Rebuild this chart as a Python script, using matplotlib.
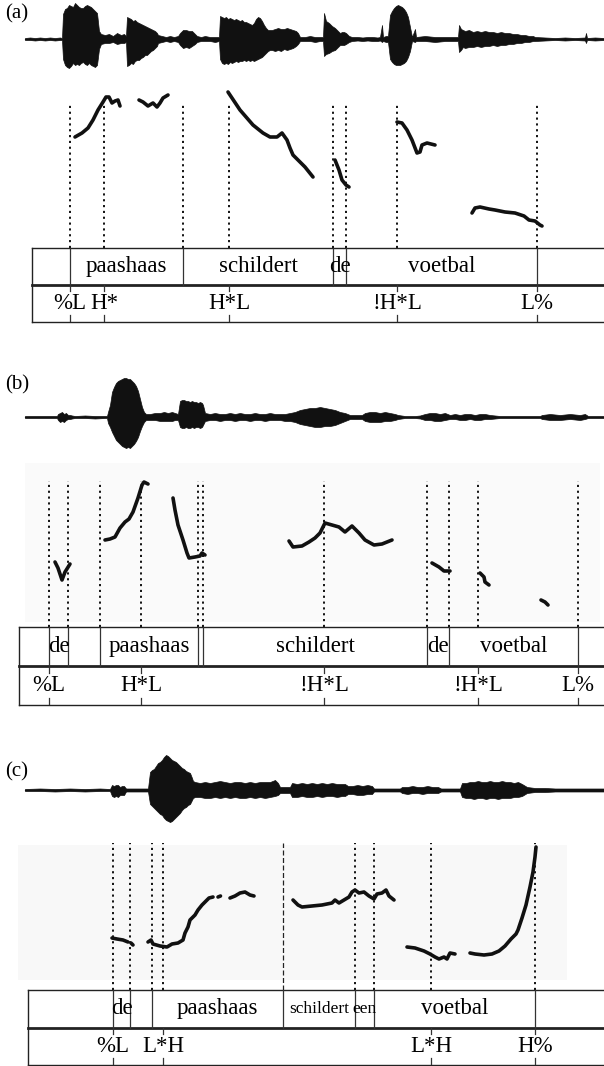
import matplotlib.pyplot as plt
from matplotlib.patches import Rectangle

plt.rcParams['font.family'] = ['Liberation Serif', 'DejaVu Serif']

# tiempo en ms, amplitud en unidades arbitrarias, f0 en Hz

# ---------------- (a) ----------------
a_wave_t = [0, 20, 40, 60, 80, 100, 120, 140, 148,
            152, 160, 168, 176, 184, 192, 200, 208, 216, 224, 232, 240, 248, 256, 264, 272, 280, 288, 296,
            304, 320, 336, 352, 368, 384, 396, 404,
            408, 416, 424, 432, 440, 448, 456, 464, 472, 480, 488, 496, 504, 512, 520, 528, 532,
            548, 564, 580, 596, 612,
            620, 632, 644, 656, 668, 680, 688,
            704, 720, 740, 760, 776,
            780, 788, 796, 804, 812, 820, 828, 836, 844, 852, 860, 868, 876, 884, 892, 900, 908, 916, 924, 932,
            940, 948, 956, 964, 972, 980, 988, 1000, 1012, 1024, 1036, 1048, 1060, 1072, 1084, 1092, 1100,
            1120, 1140, 1160, 1180, 1192,
            1196, 1204, 1216, 1228, 1240, 1252, 1260, 1268, 1276, 1284, 1296, 1308,
            1330, 1350, 1370, 1390, 1410, 1420,
            1428, 1432, 1444, 1452,
            1460, 1468, 1476, 1484, 1492, 1500, 1508, 1516, 1524, 1532, 1540, 1548,
            1560, 1564, 1600, 1640, 1680, 1720, 1732,
            1736, 1744, 1752, 1760, 1776, 1792, 1808, 1824, 1840, 1856, 1872, 1888, 1904, 1920, 1936, 1952,
            1968, 1984, 2000, 2016, 2032, 2040,
            2080, 2120, 2160, 2200, 2240, 2244, 2248, 2280, 2316]
a_wave_up = [1, 1.5, 1, 1.5, 1, 1.5, 1, 1.5, 1,
             25, 30, 31, 34, 33, 32, 36, 34, 32, 31, 31, 33, 34, 33, 32, 30, 28, 26, 8,
             5, 4, 5, 3, 6, 4, 5, 3,
             22, 21, 20, 18, 19, 17, 16, 15, 14, 13, 12, 11, 10, 9, 8, 6, 4,
             3, 2, 3, 2, 3,
             6, 9, 9, 8, 8, 5, 3,
             2, 3, 2, 2, 2,
             23, 22, 21, 22, 20, 21, 20, 19, 20, 19, 18, 19, 17, 17, 16, 15, 14, 16, 20, 22,
             21, 18, 14, 11, 9, 9, 9, 10, 11, 10, 10, 11, 10, 9, 8, 6, 2,
             2, 3, 2, 2, 2,
             26, 18, 16, 13, 11, 8, 6, 7, 7, 6, 3, 2,
             2, 1.5, 2, 2, 1.5, 2,
             14, 2, 3, 3,
             24, 28, 31, 33, 34, 33, 32, 30, 27, 22, 12, 2,
             10, 2, 3, 2, 2, 2, 2,
             14, 10, 9, 8, 9, 7, 8, 7, 8, 7, 7, 6, 7, 6, 6, 5,
             5, 4, 4, 3, 3, 2,
             1.5, 1, 1.5, 1, 1.5, 6, 1, 1.5, 1]
a_wave_dn = [1, 1, 1.5, 1, 1.5, 1, 1.5, 1, 1,
             20, 26, 28, 29, 27, 24, 26, 25, 26, 24, 23, 25, 26, 24, 26, 27, 28, 26, 10,
             5, 4, 4, 3, 5, 4, 4, 3,
             27, 26, 24, 25, 22, 21, 21, 19, 18, 16, 16, 14, 12, 11, 9, 7, 4,
             3, 2, 3, 2, 3,
             6, 9, 8, 9, 7, 5, 3,
             2, 2, 2, 3, 2,
             20, 24, 25, 24, 25, 23, 24, 23, 22, 23, 22, 22, 21, 22, 21, 22, 21, 22, 21, 20,
             19, 18, 16, 14, 12, 11, 11, 12, 11, 12, 10, 11, 10, 9, 7, 5, 2,
             2, 2, 3, 2, 2,
             17, 15, 14, 12, 11, 8, 6, 6, 6, 5, 3, 2,
             1.5, 2, 1.5, 2, 2, 1.5,
             3, 2, 3, 3,
             20, 23, 25, 26, 26, 26, 25, 24, 22, 18, 12, 2,
             3, 2, 2, 3, 2, 2, 2,
             13, 11, 8, 9, 8, 8, 7, 8, 7, 7, 6, 7, 6, 6, 5, 5,
             4, 4, 3, 3, 2, 2,
             1.5, 1, 1.5, 1, 1.5, 4, 1, 1.5, 1]
a_f0_t = [
    [200, 228, 252, 272, 292, 312, 324, 336, 348, 360, 372, 380],
    [456, 472, 492, 512, 528, 540, 552, 572],
    [812, 828, 860, 912, 952, 980, 1008, 1028, 1048, 1060, 1072, 1100, 1120, 1136, 1152],
    [1240, 1256, 1268, 1284, 1296],
    [1488, 1508, 1528, 1548, 1568, 1580, 1588, 1608, 1640],
    [1788, 1800, 1820, 1856, 1880, 1920, 1960, 1996, 2016, 2040, 2060, 2068],
]
a_f0_hz = [
    [171, 175, 180, 188, 198, 206, 211, 211, 205, 207, 208, 202],
    [208, 206, 202, 205, 201, 205, 210, 213],
    [216, 210, 198, 183, 175, 171, 171, 175, 168, 160, 153, 146, 141, 136, 131],
    [148, 138, 128, 123, 121],
    [186, 185, 178, 168, 155, 156, 163, 165, 163],
    [95, 100, 101, 99, 98, 96, 95, 92, 88, 87, 83, 82],
]
a_word_bounds = [28, 180, 632, 1232, 1284, 2048, 2400]
a_words = ['', 'paashaas', 'schildert', 'de', 'voetbal', '']
a_tone_t = [180, 316, 816, 1488, 2048]
a_tones = ['%L', 'H*', 'H*L', '!H*L', 'L%']

# ---------------- (b) ----------------
b_wave_t = [0, 40, 80, 120, 128, 132, 140, 148, 156, 164, 172, 180, 188, 200, 240, 280, 320, 328,
            332, 340, 348, 356, 364, 372, 380, 388, 396, 404, 412, 420, 428, 436, 444, 452, 460, 468, 476, 484,
            500, 520, 540, 556, 572, 588, 600, 612,
            620, 628, 636, 644, 652, 660, 668, 676, 684, 692, 700, 708, 712,
            720, 740, 760, 780, 800, 820, 840, 860, 880, 900, 920, 940, 960, 980, 1000, 1020, 1040, 1060,
            1080, 1100, 1120, 1140, 1160, 1180, 1200, 1220, 1240, 1260, 1280, 1300,
            1320, 1340, 1348,
            1360, 1380, 1400, 1420, 1440, 1460, 1480, 1492,
            1520, 1560, 1580,
            1600, 1620, 1640, 1660, 1680, 1700, 1720, 1740, 1760, 1780, 1800, 1820, 1840, 1860, 1880, 1900,
            1950, 2000, 2060, 2068, 2100, 2140, 2180, 2220, 2240, 2252, 2280, 2316]
b_wave_up = [1, 1, 1, 1, 1, 3, 4, 5, 3, 4, 2, 2, 1.5, 1, 1.5, 1, 1, 1,
             5, 12, 25, 30, 34, 36, 37, 38, 39, 39, 38, 38, 36, 34, 31, 26, 18, 10, 5, 3,
             3, 4, 4, 5, 4, 5, 4, 3,
             16, 17, 17, 16, 16, 15, 16, 15, 15, 14, 15, 14, 12,
             4, 3, 4, 3, 3, 4, 3, 4, 3, 3, 4, 3, 3, 4, 3, 3, 3, 4,
             5, 7, 8, 9, 9, 10, 9, 8, 7, 5, 4, 2,
             2, 2, 2,
             4, 5, 5, 4, 5, 4, 3, 2,
             1, 1, 1.5,
             3, 4, 4, 3, 4, 2, 3, 2, 3, 3, 2, 3, 3, 2, 1.5, 1,
             1, 1, 1, 2, 3, 2, 3, 2, 3, 1, 1, 1]
b_wave_dn = [1, 1, 1, 1, 1, 3, 5, 4, 5, 3, 2, 2, 1.5, 1, 1, 1.5, 1, 1,
             6, 10, 15, 19, 23, 25, 27, 29, 30, 31, 30, 31, 29, 27, 24, 20, 14, 9, 5, 3,
             3, 3, 4, 4, 4, 4, 3, 3,
             10, 11, 11, 10, 11, 11, 10, 11, 10, 10, 11, 10, 8,
             4, 3, 3, 4, 3, 3, 4, 3, 3, 4, 3, 3, 4, 3, 3, 3, 4, 4,
             5, 7, 8, 9, 10, 10, 9, 9, 8, 6, 4, 2,
             2, 2, 2,
             4, 5, 5, 5, 4, 4, 3, 2,
             1, 1, 1.5,
             3, 3, 4, 4, 3, 2, 2, 3, 3, 2, 3, 3, 2, 2, 1.5, 1,
             1, 1, 1, 2, 3, 3, 2, 3, 2, 1, 1, 1]
b_f0_t = [
    [120, 132, 148, 160, 180],
    [320, 340, 360, 380, 400, 416, 432, 452, 468, 476, 492],
    [592, 600, 612, 632, 648, 656, 680, 700, 708, 720],
    [1056, 1072, 1108, 1136, 1160, 1180, 1200, 1228, 1256, 1280, 1308, 1336, 1360, 1396, 1428, 1468],
    [1628, 1656, 1676, 1700],
    [1820, 1836, 1840, 1856],
    [2064, 2080, 2092],
]
b_f0_hz = [
    [125, 119, 107, 115, 123],
    [147, 148, 150, 159, 165, 168, 175, 189, 202, 205, 203],
    [189, 177, 162, 147, 134, 129, 130, 131, 134, 132],
    [146, 140, 141, 145, 149, 154, 164, 162, 160, 155, 161, 154, 147, 142, 143, 147],
    [124, 120, 116, 116],
    [114, 110, 105, 102],
    [87, 85, 82],
]
b_word_bounds = [-24, 96, 172, 300, 692, 712, 1608, 1696, 2212, 2400]
b_words = ['', 'de', '', 'paashaas', '', 'schildert', 'de', 'voetbal', '']
b_tone_t = [96, 464, 1196, 1812, 2212]
b_tones = ['%L', 'H*L', '!H*L', '!H*L', 'L%']

# ---------------- (c) ----------------
c_wave_t = [0, 60, 120, 180, 240, 300, 340,
            348, 356, 364, 372, 380, 388, 396, 404,
            420, 440, 460, 480, 492,
            500, 508, 516, 524, 532, 540, 548, 556, 564, 572, 580, 588, 596, 604, 612, 620, 628, 636, 644, 652,
            660, 668, 672,
            680, 700, 720, 740, 760, 780, 800, 820, 840, 860, 880, 900, 920, 940, 960, 980, 1000, 1012, 1020,
            1040, 1060,
            1068, 1088, 1108, 1128, 1148, 1168, 1188, 1208, 1228, 1248, 1268, 1280, 1292,
            1310, 1330, 1350, 1370, 1388, 1396,
            1420, 1460, 1500,
            1508, 1530, 1550, 1570, 1590, 1610, 1630, 1652, 1664,
            1700, 1740,
            1748, 1764, 1780, 1796, 1812, 1828, 1844, 1860, 1876, 1892, 1908, 1924, 1940, 1956, 1972, 1988, 2008,
            2040, 2080, 2120, 2160, 2200, 2240, 2280, 2316]
c_wave_up = [1, 1.5, 1, 1.5, 1, 1.5, 1,
             5, 4, 5, 5, 3, 4, 4, 1.5,
             1.5, 1.5, 1.5, 1.5, 1.5,
             18, 20, 21, 24, 27, 28, 30, 33, 35, 34, 32, 30, 29, 28, 26, 24, 22, 21, 19, 18,
             17, 12, 9,
             8, 7, 8, 7, 8, 9, 8, 7, 8, 8, 7, 8, 7, 8, 8, 8, 10, 7, 3,
             3, 3,
             7, 6, 7, 6, 7, 6, 7, 6, 7, 6, 6, 6, 4,
             4, 5, 4, 5, 4, 1.5,
             1.5, 1.5, 1.5,
             3, 3, 4, 3, 3, 4, 3, 3, 1.5,
             1.5, 1.5,
             7, 7, 8, 8, 9, 8, 8, 9, 8, 8, 9, 8, 8, 7, 8, 6, 3,
             2, 2, 1.5, 1.5, 1.5, 1.5, 1.5, 1.5]
c_wave_dn = [1, 1, 1.5, 1, 1.5, 1, 1,
             6, 7, 6, 7, 5, 5, 5, 1.5,
             1.5, 1.5, 1.5, 1.5, 1.5,
             14, 16, 18, 20, 22, 24, 25, 28, 30, 31, 32, 31, 29, 27, 25, 23, 20, 18, 17, 15,
             14, 10, 8,
             7, 7, 8, 8, 7, 8, 7, 8, 7, 8, 8, 7, 8, 7, 8, 7, 6, 5, 3,
             3, 3,
             7, 7, 6, 7, 7, 6, 7, 6, 6, 7, 6, 6, 4,
             4, 5, 5, 4, 4, 1.5,
             1.5, 1.5, 1.5,
             3, 4, 3, 3, 4, 3, 3, 3, 1.5,
             1.5, 1.5,
             7, 8, 8, 9, 8, 8, 9, 8, 8, 9, 8, 8, 8, 7, 7, 6, 3,
             2, 2, 1.5, 1.5, 1.5, 1.5, 1.5, 1.5]
c_f0_t = [
    [348, 368, 392, 412],
    [424, 432],
    [492, 504, 512, 540, 568, 588, 612, 632, 640, 652, 660, 680, 692, 708, 720, 736, 752],
    [772, 782],
    [820, 840, 860, 880, 900, 916],
    [1072, 1092, 1108, 1148, 1188, 1228, 1240, 1256, 1276, 1296, 1308, 1320, 1336, 1356, 1376, 1396, 1408,
     1428, 1444, 1456, 1476],
    [1528, 1560, 1596, 1620, 1640, 1656, 1676, 1688, 1700, 1720],
    [1780, 1800, 1836, 1868, 1896, 1920, 1944, 1964, 1972, 1988, 2004, 2020, 2032, 2040, 2044],
]
c_f0_hz = [
    [112, 111, 110, 108],
    [107, 105],
    [108, 110, 106, 104, 103, 106, 107, 110, 117, 123, 130, 135, 140, 145, 148, 152, 153],
    [153, 154],
    [152, 154, 157, 158, 155, 154],
    [150, 145, 143, 144, 145, 147, 150, 147, 150, 153, 158, 160, 157, 158, 154, 151, 156, 157, 160, 154, 150],
    [103, 102, 99, 96, 93, 91, 93, 91, 97, 96],
    [97, 96, 95, 96, 99, 104, 111, 116, 120, 132, 145, 163, 178, 193, 203],
]
c_word_bounds = [12, 352, 420, 508, 1032, 1320, 1396, 2040, 2400]
c_words = ['', 'de', '', 'paashaas', 'schildert', 'een', 'voetbal', '']
c_tone_t = [352, 552, 1624, 2040]
c_tones = ['%L', 'L*H', 'L*H', 'H%']


W, H = 604, 1066
XLIM = (-100, 2316)
fig = plt.figure(figsize=(W / 100, H / 100), dpi=100)


def rect(top, bottom):
    # filas en pixeles -> fraccion de figura
    return [0, 1 - bottom / H, 1, (bottom - top) / H]


def new_ax(top, bottom):
    ax = fig.add_axes(rect(top, bottom))
    ax.set_xlim(*XLIM)
    ax.axis('off')
    ax.patch.set_alpha(0)
    return ax


def panel(label, label_y, wave_mid, grid_top, grid_bot, wave, f0, bounds, words, tone_t, tones,
          dash_top, bg=None, small=(), thin=()):
    # oscilograma
    ax_w = new_ax(wave_mid - 39, wave_mid + 39)
    ax_w.set_ylim(-39, 39)
    t, up, dn = wave
    ax_w.fill_between(t, [-d for d in dn], up, color='#111111', lw=0.5)
    ax_w.plot([t[0], t[-1]], [0, 0], color='#111111', lw=0.8)

    # f0
    ax_p = new_ax(wave_mid + 39, grid_top)
    ax_p.set_ylim(60, 60 + grid_top - (wave_mid + 39))
    if bg is not None:
        ax_p.add_patch(Rectangle((bg[0], bg[2]), bg[1] - bg[0], bg[3] - bg[2],
                                 color=bg[4], lw=0, zorder=0))
    marks = sorted(set(bounds[1:-1]) | set(tone_t))
    for m in marks:
        if m in thin:
            ax_p.plot([m, m], [60, dash_top], color='#222222', lw=0.9, ls=(0, (4, 2)), zorder=1)
        else:
            ax_p.plot([m, m], [60, dash_top], color='#111111', lw=1.4, ls=(0, (1.1, 1.9)), zorder=1)
    for ts, hz in zip(*f0):
        ax_p.plot(ts, hz, color='#111111', lw=2.6, solid_capstyle='round',
                  solid_joinstyle='round', zorder=3)

    # textgrid
    ax_g = new_ax(grid_top, grid_bot)
    ax_g.set_ylim(0, 2)
    left = bounds[0]
    ax_g.plot([left, XLIM[1] + 50], [2, 2], color='#222222', lw=1.0, clip_on=False)
    ax_g.plot([left, XLIM[1] + 50], [1, 1], color='#222222', lw=2.0, clip_on=False)
    ax_g.plot([left, XLIM[1] + 50], [0, 0], color='#222222', lw=1.0, clip_on=False)
    ax_g.plot([left, left], [0, 2], color='#222222', lw=1.0, clip_on=False)
    for b in bounds[1:-1]:
        ax_g.plot([b, b], [1, 2], color='#333333', lw=0.9)
    for i, w in enumerate(words):
        if not w:
            continue
        mid = (bounds[i] + bounds[i + 1]) / 2
        ax_g.text(mid, 1.5, w, ha='center', va='center',
                  fontsize=12.5 if w in small else 16.5)
    for tt, lab in zip(tone_t, tones):
        ax_g.plot([tt, tt], [1, 0.83], color='#333333', lw=0.9)
        ax_g.plot([tt, tt], [0, 0.18], color='#333333', lw=0.9)
        ax_g.text(tt, 0.5, lab, ha='center', va='center', fontsize=16.5)

    fig.text(5 / W, 1 - label_y / H, label, fontsize=15, va='center', ha='left')


panel('(a)', 14, 39, 248, 322,
      (a_wave_t, a_wave_up, a_wave_dn), (a_f0_t, a_f0_hz),
      a_word_bounds, a_words, a_tone_t, a_tones, dash_top=205)

panel('(b)', 385, 417, 627, 705,
      (b_wave_t, b_wave_up, b_wave_dn), (b_f0_t, b_f0_hz),
      b_word_bounds, b_words, b_tone_t, b_tones, dash_top=206,
      bg=(0, 2300, 65, 224, '#fafafa'))

panel('(c)', 772, 790, 990, 1065,
      (c_wave_t, c_wave_up, c_wave_dn), (c_f0_t, c_f0_hz),
      c_word_bounds, c_words, c_tone_t, c_tones, dash_top=207,
      bg=(-28, 2168, 70, 205, '#f8f8f8'), small=('schildert', 'een'), thin=(1032,))

fig.savefig('out.png', dpi=100)
